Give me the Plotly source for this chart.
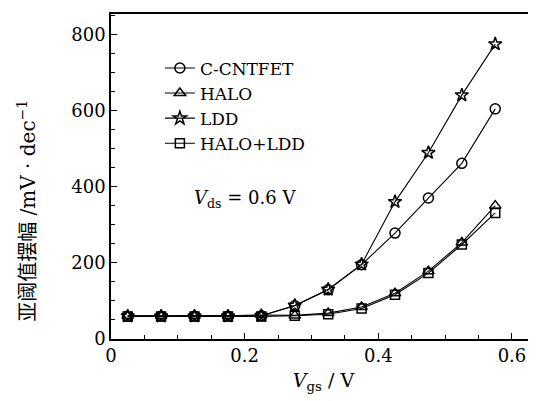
import plotly.graph_objects as go

vgs = [0.025, 0.075, 0.125, 0.175, 0.225, 0.275, 0.325, 0.375, 0.425, 0.475, 0.525, 0.575]
c_cntfet = [60, 60, 60, 60, 61, 87, 129, 195, 278, 370, 461, 604]
halo = [61, 61, 61, 61, 63, 62, 68, 84, 120, 178, 253, 350]
ldd = [60, 60, 60, 60, 61, 88, 130, 196, 360, 489, 640, 774]
halo_ldd = [59, 59, 59, 59, 59, 61, 65, 80, 116, 173, 248, 331]

names = ["C-CNTFET", "HALO", "LDD", "HALO+LDD"]
series = [c_cntfet, halo, ldd, halo_ldd]
symbols = ["circle-open", "triangle-up-open", "star-open", "square-open"]
sizes = [10, 10, 10, 9]

serif = "DejaVu Serif, Liberation Serif, serif"

fig = go.Figure()
for n, s, sym, sz in zip(names, series, symbols, sizes):
    fig.add_trace(go.Scatter(
        x=vgs, y=s, name=n, mode="lines+markers",
        line=dict(color="black", width=1.1),
        marker=dict(symbol=sym, size=sz, color="black", line=dict(width=1.5, color="black")),
    ))

fig.update_layout(
    width=528, height=393,
    margin=dict(l=103, r=0, t=6, b=62),
    plot_bgcolor="white", paper_bgcolor="white",
    font=dict(family=serif, color="black", size=18),
    showlegend=True,
    legend=dict(x=0.115, y=0.888, xanchor="left", yanchor="top",
                bgcolor="rgba(0,0,0,0)", font=dict(size=17, family=serif),
                itemwidth=30, tracegroupgap=0),
    xaxis=dict(range=[0, 0.636], showline=True, linecolor="black", linewidth=1.5,
               mirror=True, ticks="inside", ticklen=6, tickcolor="black",
               tickvals=[0, 0.2, 0.4, 0.6], ticktext=["0", "0.2", "0.4", "0.6"],
               minor=dict(dtick=0.05, tick0=0, ticks="inside", ticklen=4, tickcolor="black"),
               showgrid=False, zeroline=False, automargin=False,
               title=dict(text="<i>V</i><sub>gs</sub> / V", font=dict(size=19), standoff=8)),
    yaxis=dict(range=[0, 853], showline=True, linecolor="black", linewidth=1.5,
               ticks="inside", ticklen=6, tickcolor="black",
               tickvals=[0, 200, 400, 600, 800],
               minor=dict(dtick=50, tick0=0, ticks="inside", ticklen=4, tickcolor="black"),
               showgrid=False, zeroline=False, automargin=False),
)

fig.add_annotation(x=-0.198, y=0.394, xref="paper", yref="paper", xanchor="center", yanchor="middle",
                   textangle=-90, showarrow=False,
                   text="亚阈值摆幅 /mV · dec<sup>−1</sup>",
                   font=dict(size=20, family="DejaVu Serif, Noto Sans CJK SC, serif"))

fig.add_annotation(x=0.19, y=0.43, xref="paper", yref="paper", xanchor="left", yanchor="middle",
                   text="<i>V</i><sub>ds</sub> = 0.6 V", showarrow=False,
                   font=dict(size=18, family=serif))

fig.write_html("out.html")
